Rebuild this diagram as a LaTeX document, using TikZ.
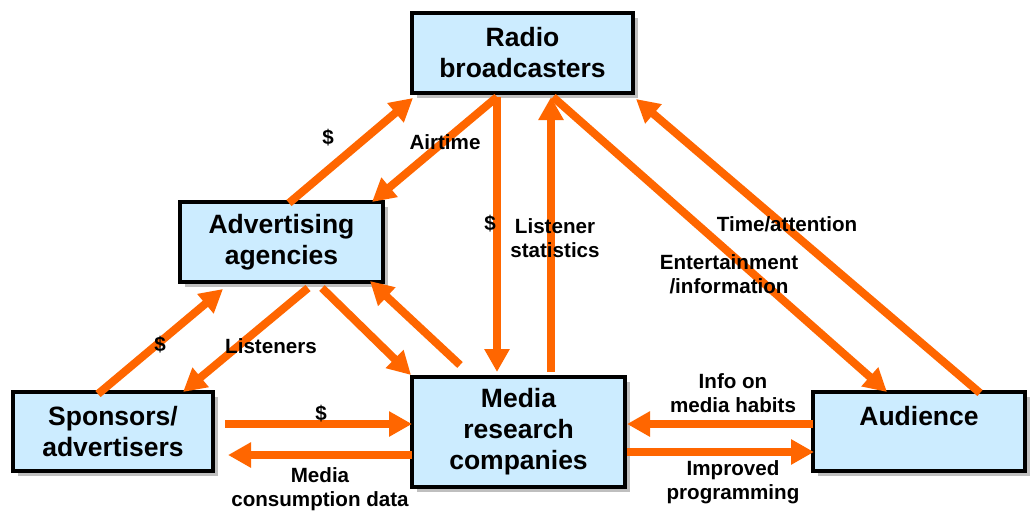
\documentclass[tikz,border=0pt]{standalone}
\usepackage{fontspec}
\setmainfont{Liberation Sans}
\usetikzlibrary{arrows.meta,shadows}
\definecolor{boxblue}{HTML}{CCECFF}
\definecolor{arrorange}{HTML}{FF6600}
\tikzset{
  box/.style={draw=black, line width=3.5pt, fill=boxblue, align=center,
    font=\fontsize{26.5}{31}\selectfont\bfseries, inner sep=0pt,
    drop shadow={shadow xshift=5pt, shadow yshift=-5pt, fill=gray!50, opacity=1}},
  flow/.style={draw=arrorange, line width=8pt, -{Triangle[length=23pt,width=24pt]}},
  lbl/.style={align=center, font=\fontsize{20.6}{23.5}\selectfont\bfseries, inner sep=0pt}
}
\begin{document}
\begin{tikzpicture}[x=1pt,y=-1pt]
\useasboundingbox (0,0) rectangle (1032,517);
\node[box, minimum width=221pt, minimum height=80pt] (radio) at (522.5,53) {Radio\\broadcasters};
\node[box, minimum width=203pt, minimum height=80pt] (ag) at (281.5,242) {Advertising\\agencies};
\node[box, minimum width=200pt, minimum height=79pt] (sp) at (113,431.5) {Sponsors/\\advertisers};
\node[box, minimum width=213pt, minimum height=110pt] (mr) at (518.5,432) {Media\\research\\companies};
\node[box, minimum width=212pt, minimum height=79pt] (au) at (919,431.5) {Audience\\\mbox{}};

% agencies <-> radio
\draw[flow] ([shift={(7.5,-39)}]ag.center) -- ([shift={(-109.5,45)}]radio.center);
\draw[flow] ([shift={(-25.5,44)}]radio.center) -- ([shift={(90.5,-40)}]ag.center);
% radio <-> media research
\draw[flow] ([shift={(-25.5,44)}]radio.center) -- ([shift={(-21.5,-60)}]mr.center);
\draw[flow] ([shift={(32.5,-60)}]mr.center) -- ([shift={(28.5,44)}]radio.center);
% radio <-> audience
\draw[flow] ([shift={(30.5,44)}]radio.center) -- ([shift={(-32,-39.5)}]au.center);
\draw[flow] ([shift={(61,-38.5)}]au.center) -- ([shift={(113.5,46)}]radio.center);
% sponsors <-> agencies
\draw[flow] ([shift={(-15,-37.5)}]sp.center) -- ([shift={(-58.5,47)}]ag.center);
\draw[flow] ([shift={(26.5,46)}]ag.center) -- ([shift={(70,-39.5)}]sp.center);
% agencies <-> media research
\draw[flow] ([shift={(40.5,46)}]ag.center) -- ([shift={(-107.5,-57)}]mr.center);
\draw[flow] ([shift={(-58.5,-67)}]mr.center) -- ([shift={(88.5,39)}]ag.center);
% sponsors <-> media research
\draw[flow] ([shift={(112,-7.5)}]sp.center) -- ([shift={(-106.5,-8)}]mr.center);
\draw[flow] ([shift={(-106.5,23)}]mr.center) -- ([shift={(115,23.5)}]sp.center);
% audience <-> media research
\draw[flow] ([shift={(-106,-7.5)}]au.center) -- ([shift={(108.5,-8)}]mr.center);
\draw[flow] ([shift={(108.5,20)}]mr.center) -- ([shift={(-105,20.5)}]au.center);

% labels
\node[lbl] (l1) at (328,138) {\$};
\node[lbl] (l2) at (445,142) {Airtime};
\node[lbl] (l3) at (490,224) {\$};
\node[lbl] (l4) at (555,238) {Listener\\statistics};
\node[lbl] (l5) at (787,224) {Time/attention};
\node[lbl] (l6) at (729,274) {Entertainment\\/information};
\node[lbl] (l7) at (160,345) {\$};
\node[lbl] (l8) at (271,346) {Listeners};
\node[lbl] (l9) at (321,414) {\$};
\node[lbl] (l10) at (320,489) {Media\\consumption data};
\node[lbl] (l11) at (733,393) {Info on\\media habits};
\node[lbl] (l12) at (733,482) {Improved\\programming};
\end{tikzpicture}
\end{document}
